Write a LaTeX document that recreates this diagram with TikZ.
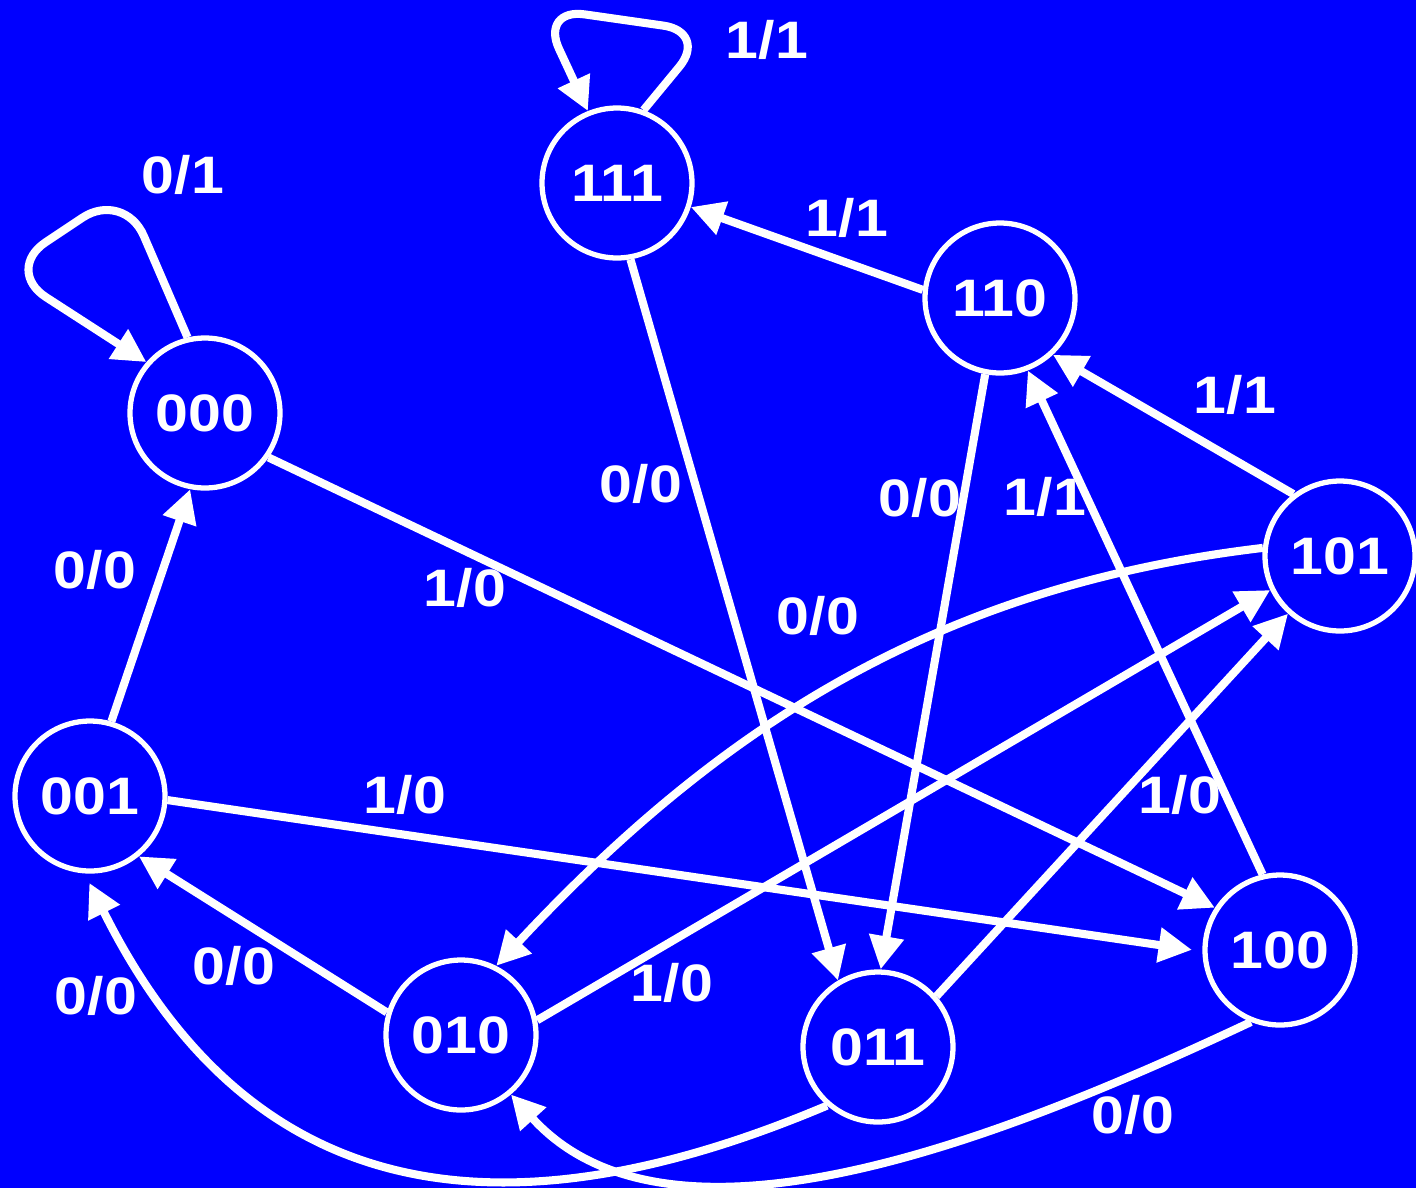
\documentclass[tikz,border=0pt]{standalone}
\usepackage{fontspec}
\setmainfont{Liberation Sans}[FakeStretch=1.12]
\usetikzlibrary{arrows.meta}
\definecolor{bgblue}{RGB}{0,0,255}

\begin{document}
\begin{tikzpicture}[
  x=0.02cm, y=-0.02cm,
  >={Triangle[length=19pt,width=19pt]},
  state/.style={circle, draw=white, line width=3pt, minimum size=3cm, inner sep=0pt, text=white, font=\fontsize{30}{35}\selectfont\bfseries},
  trans/.style={->, white, line width=4.6pt},
  lbl/.style={text=white, font=\fontsize{30}{35}\selectfont\bfseries, inner sep=1pt}
]
  % coordinates are pixels of the 1416x1188 frame, y pointing down
  \useasboundingbox (0,0) rectangle (1416,1188);
  \clip (0,0) rectangle (1416,1188);
  \fill[bgblue] (0,0) rectangle (1416,1188);

  \node[state] (s111) at (617,183) {111};
  \node[state] (s110) at (1000,298) {110};
  \node[state] (s000) at (205,413) {000};
  \node[state] (s101) at (1340,556) {101};
  \node[state] (s001) at (90,796) {001};
  \node[state] (s100) at (1280,950) {100};
  \node[state] (s010) at (461,1035) {010};
  \node[state] (s011) at (878,1047) {011};

  % self loops
  \draw[trans, rounded corners=0.9cm] (s111.70) -- (708,32) -- (540,8) -- (s111.112);
  \draw[trans, rounded corners=1cm] (s000.103) -- (124,190) -- (4,270) -- (s000.139);

  % straight transitions
  \draw[trans] (s110.174) -- (s111.-18);
  \draw[trans] (s101.127) -- (s110.-47);
  \draw[trans] (s100.103) -- (s110.-69);
  \draw[trans] (s111.-80) -- (s011.121);
  \draw[trans] (s110.-101) -- (s011.88);
  \draw[trans] (s000.-35) -- (s100.147);
  \draw[trans] (s010.11) -- (s101.206);
  \draw[trans] (s011.41) -- (s101.228);
  \draw[trans] (s001.74) -- (s000.-101);
  \draw[trans, shorten >=6pt] (s001.-3) -- (s100.181);
  \draw[trans] (s010.163) -- (s001.-51);

  % curved transitions
  \draw[trans] (s101.174) .. controls (950,585) and (730,715) .. (s010.63);
  \draw[trans, shorten >=6pt] (s011.229) .. controls (450,1265) and (230,1165) .. (s001.-94);
  \draw[trans] (s100.248) .. controls (1000,1140) and (670,1270) .. (s010.-50);

  % labels
  \node[lbl] (l1) at (767,40) {1/1};
  \node[lbl] (l2) at (183,175) {0/1};
  \node[lbl] (l3) at (847,218) {1/1};
  \node[lbl] (l4) at (1235,395) {1/1};
  \node[lbl] (l5) at (641,484) {0/0};
  \node[lbl] (l6) at (920,498) {0/0};
  \node[lbl] (l7) at (1045,497) {1/1};
  \node[lbl] (l8) at (95,570) {0/0};
  \node[lbl] (l9) at (465,588) {1/0};
  \node[lbl] (l10) at (818,616) {0/0};
  \node[lbl] (l11) at (405,795) {1/0};
  \node[lbl] (l12) at (1180,795) {1/0};
  \node[lbl] (l13) at (234,966) {0/0};
  \node[lbl] (l14) at (672,983) {1/0};
  \node[lbl] (l15) at (96,996) {0/0};
  \node[lbl] (l16) at (1133,1115) {0/0};
\end{tikzpicture}
\end{document}
